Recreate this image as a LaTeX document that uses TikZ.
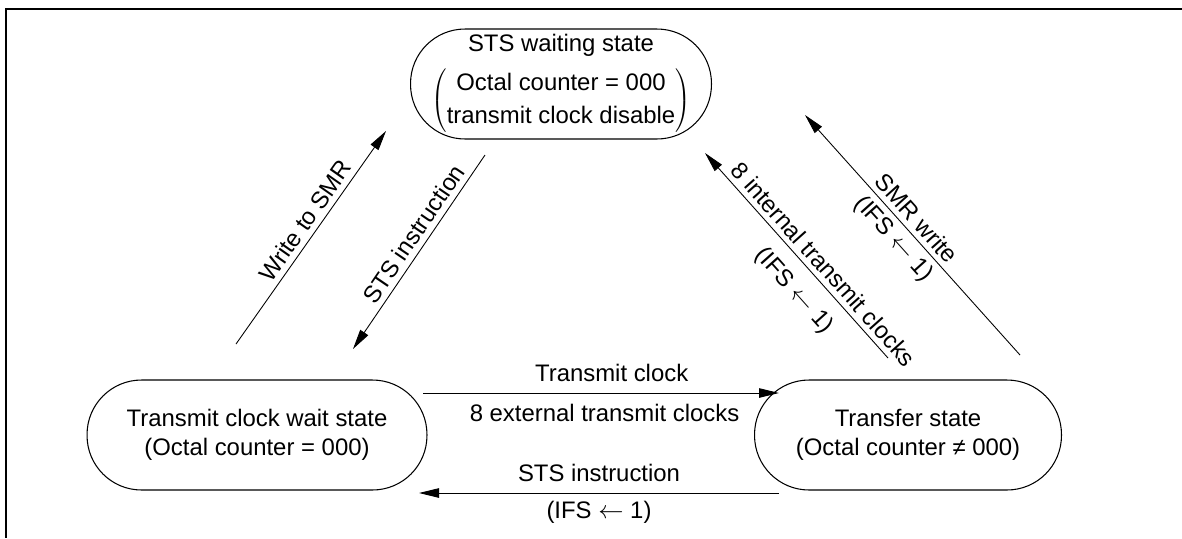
\documentclass[tikz,border=0pt]{standalone}
\usepackage{fontspec}
\setmainfont{Liberation Sans}
\usepackage{tikz}
\usetikzlibrary{arrows.meta}
\renewcommand{\arraystretch}{1.15}

\begin{document}
\begin{tikzpicture}[
  x=0.02cm, y=-0.02cm,
  font=\fontsize{13.6}{16.5}\selectfont,
  stbox/.style={draw, line width=0.6pt, rounded corners=1.09cm, minimum height=2.2cm, align=center, inner sep=2pt},
  tr/.style={-{Triangle[length=4mm, width=1.9mm]}, line width=0.5pt},
  lbl/.style={sloped, inner sep=3pt}
]
  \useasboundingbox (0,0) rectangle (1182,538);
  % frame
  \draw[line width=0.8pt] (1182,9) -- (6,9) -- (6,538);

  % states
  \node[stbox, minimum width=6.02cm] (stswait) at (561,84) {STS waiting state\\[5pt]
    $\left(\begin{tabular}{@{}c@{}}Octal counter = 000\\ transmit clock disable\end{tabular}\right)$};
  \node[stbox, minimum width=6.8cm] (ckwait) at (257,435) {Transmit clock wait state\\(Octal counter = 000)};
  \node[stbox, minimum width=6.14cm] (xfer) at (908,435) {Transfer state\\(Octal counter ≠ 000)};

  % arrow ends
  \coordinate (wr-s) at (236,344);  \coordinate (wr-e) at (386,131);
  \coordinate (sd-s) at (485,155);  \coordinate (sd-e) at (353,349);
  \coordinate (ic-s) at (888,358);  \coordinate (ic-e) at (705,153);
  \coordinate (sm-s) at (1020,355); \coordinate (sm-e) at (805,115);
  \coordinate (tc-s) at (423,393);  \coordinate (tc-e) at (779,393);
  \coordinate (si-s) at (779,493);  \coordinate (si-e) at (419,493);

  \draw[tr] (wr-s) -- node[lbl, above, pos=0.54] {Write to SMR} (wr-e);
  \draw[tr] (sd-s) -- node[lbl, above, pos=0.45] {STS instruction} (sd-e);
  \draw[tr] (ic-s) -- node[lbl, above, pos=0.41] {8 internal transmit clocks}
                      node[lbl, below=5pt, pos=0.41] {(IFS $\leftarrow$ 1)} (ic-e);
  \draw[tr] (sm-s) -- node[lbl, above, pos=0.53] {SMR write}
                      node[lbl, below, pos=0.53] {(IFS $\leftarrow$ 1)} (sm-e);
  \draw[tr] (tc-s) -- node[above=3pt, pos=0.53] {Transmit clock}
                      node[below=3pt, pos=0.51] {8 external transmit clocks} (tc-e);
  \draw[tr] (si-s) -- node[above=3pt] {STS instruction}
                      node[below=1pt] {(IFS $\leftarrow$ 1)} (si-e);
\end{tikzpicture}
\end{document}
